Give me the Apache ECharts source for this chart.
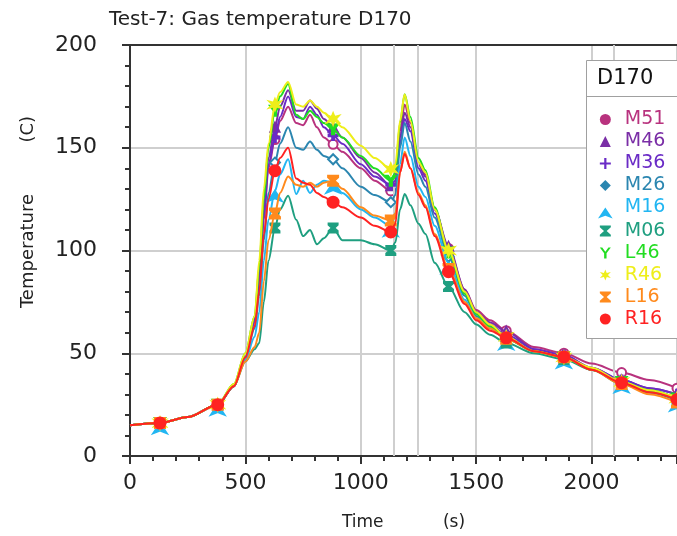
<!DOCTYPE html>
<html>
<head>
<meta charset="utf-8">
<script src="https://cdn.jsdelivr.net/npm/echarts@6/dist/echarts.min.js"></script>
<style>
  html, body { margin: 0; padding: 0; background: #fff; }
  #chart { width: 677px; height: 536px; }
</style>
</head>
<body>
<div id="chart"></div>
<script>
// Sample times (s) shared by every gauge
const times = [0, 130, 250, 380, 450, 500, 540, 560, 580, 600, 628, 650, 685, 720, 750, 780, 810, 840, 880, 920, 1000, 1060, 1130, 1150, 1170, 1190, 1215, 1250, 1280, 1320, 1380, 1450, 1500, 1560, 1630, 1750, 1880, 2000, 2130, 2250, 2370];
// Times at which each curve carries its marker
const markerTimes = [130, 380, 628, 880, 1130, 1380, 1630, 1880, 2130, 2370];
// Event lines on the time axis
const eventTimes = [1142, 1247, 2097];

// Gas temperatures (C) per gauge
const M51 = [15, 16, 19, 25, 34, 48, 66, 85, 115, 140, 154, 163, 170, 162, 161, 166, 160, 155, 151.7, 148, 140, 134, 129, 133, 158, 171, 162, 143, 137, 120, 101, 81, 71, 66, 61, 53, 50, 45, 40.6, 37, 33];
const M46 = [15, 16, 19, 25, 34, 48, 66, 88, 120, 145, 160, 170, 178, 168, 168, 173, 169, 164, 160, 155, 145, 138, 131.5, 135, 155, 167, 160, 142, 136, 120, 102, 81, 70, 65, 60.7, 52, 49, 43, 37, 33, 30];
const M36 = [15, 16, 19, 25, 34, 48, 65, 86, 117, 142, 155, 165, 175, 165, 164, 170, 166, 160, 156, 152, 142, 136, 132, 134, 152, 164, 158, 140, 134, 118, 100, 80, 70, 64, 59, 52, 49, 43, 37, 33, 30];
const M26 = [15, 16, 19, 25, 34, 48, 62, 78, 105, 128, 142.8, 152, 160, 150, 149, 153, 149, 146, 144.4, 140, 131, 127, 123.5, 127, 150, 162, 153, 137, 131, 116, 97, 78, 68, 63, 58, 51, 48, 42, 36, 32, 28];
const M16 = [15, 16, 19, 25, 34, 47, 58, 70, 95, 115, 129, 137, 144.4, 127.5, 134, 128, 132, 134, 133, 128, 120, 116, 112, 118, 142, 155, 146, 131, 126, 112, 94, 76, 67, 62, 57, 51, 48, 42, 36, 31, 27];
const M06 = [15, 16, 19, 25, 34, 46, 52, 55, 75, 95, 111, 120, 126.7, 115, 107, 110, 103, 106, 111, 105, 105, 103, 100, 104, 120, 127.5, 122, 113, 108, 94, 82.5, 70, 64, 59, 55, 50, 47, 42, 35, 31, 27];
const L46 = [15, 16, 19, 25, 35, 50, 68, 92, 125, 150, 168, 175, 181, 166, 164, 168, 165, 162, 159, 155, 146, 140, 134, 138, 162, 176, 165, 145, 139, 121, 99, 79, 69, 63, 57, 51, 48, 42, 36, 32, 28];
const R46 = [15, 16, 19, 25, 35, 50, 68, 95, 130, 152, 171, 177, 182, 171, 170, 173, 170, 167, 164, 160, 151, 145, 139.6, 142, 163, 176, 163, 143, 138, 120, 100, 80, 70, 64, 58, 51, 48, 43, 36, 32, 28];
const L16 = [15, 16, 19, 25, 34, 46, 53, 60, 85, 105, 118, 128, 136, 132, 131, 133, 131, 133, 134, 130, 121, 117, 114.6, 118, 138, 148, 140, 128, 122, 108, 91, 75, 67, 62, 57, 51, 48, 42, 35, 30, 26];
const R16 = [15, 16, 19, 25, 34, 48, 63, 80, 108, 125, 138.8, 145, 150, 135, 133, 132, 128, 126, 123.5, 121, 116, 112, 109, 113, 138, 147, 140, 127, 121, 107, 89.7, 74, 66, 61, 57.5, 51, 48.2, 42, 35.7, 31, 27.5];

const gaugeNames = ['M51', 'M46', 'M36', 'M26', 'M16', 'M06', 'L46', 'R46', 'L16', 'R16'];
const gaugeValues = [M51, M46, M36, M26, M16, M06, L46, R46, L16, R16];
const gaugeColors = ['#b8327e', '#7a2ea6', '#6a2bc6', '#2b86b0', '#22b6f2', '#1f9f80', '#22dd22', '#eeee1a', '#ff8a1c', '#ff2222'];

const plus = 'path://M4,0H6V4H10V6H6V10H4V6H0V4H4Z';
const hourglass = 'path://M0,0H10V1.6L6.2,5L10,8.4V10H0V8.4L3.8,5L0,1.6Z';
const ysym = 'path://M0,0H2.2L5,3.8L7.8,0H10L6.1,5.2V10H3.9V5.2Z';
const star = 'path://M5,0L6.3,3.2L10,2.2L7.4,5L10,7.8L6.3,6.8L5,10L3.7,6.8L0,7.8L2.6,5L0,2.2L3.7,3.2Z';
const gaugeSymbols = ['emptyCircle', 'triangle', plus, 'emptyDiamond', 'arrow', hourglass, ysym, star, hourglass, 'circle'];
const gaugeSizes = [9, 9, 9, 10, 10, 9, 10, 11, 10, 11];

const chart = echarts.init(document.getElementById('chart'));
const font = 'DejaVu Sans';

const series = gaugeNames.map((name, k) => ({
  name: name,
  type: 'line',
  data: times.map((t, i) => [t, gaugeValues[k][i]]),
  smooth: 0.3,
  smoothMonotone: 'x',
  showAllSymbol: true,
  symbol: gaugeSymbols[k],
  symbolSize: (v) => markerTimes.indexOf(v[0]) >= 0 ? gaugeSizes[k] : 0,
  lineStyle: { width: 2, color: gaugeColors[k] },
  itemStyle: { color: gaugeColors[k], borderColor: gaugeColors[k], borderWidth: 2 },
  emphasis: { disabled: true },
  clip: true,
  z: 3 + k,
  markLine: k === 0 ? {
    silent: true,
    symbol: 'none',
    label: { show: false },
    lineStyle: { color: '#cfcfcf', width: 2, type: 'solid' },
    data: eventTimes.map((t) => ({ xAxis: t }))
  } : undefined
}));

chart.setOption({
  animation: false,
  backgroundColor: '#ffffff',
  textStyle: { fontFamily: font },
  title: {
    text: 'Test-7: Gas temperature D170',
    left: 104, top: 5,
    textStyle: { fontFamily: font, fontSize: 20, fontWeight: 'normal', color: '#222' }
  },
  grid: { left: 130, right: 0, top: 45, bottom: 77, containLabel: false },
  xAxis: [{
    type: 'value', min: 0, max: 2370, interval: 500,
    name: 'Time           (s)', nameLocation: 'middle', nameGap: 58,
    nameTextStyle: { fontFamily: font, fontSize: 17, color: '#222' },
    axisLine: { show: true, lineStyle: { color: '#333', width: 2 } },
    axisTick: { show: true, length: 8, lineStyle: { color: '#333', width: 2 } },
    minorTick: { show: true, splitNumber: 5, length: 5, lineStyle: { color: '#333', width: 2 } },
    axisLabel: { fontFamily: font, fontSize: 22, color: '#222', margin: 16, showMaxLabel: false, formatter: (v) => String(v) },
    splitLine: { show: true, lineStyle: { color: '#cfcfcf', width: 2 } }
  }, {
    type: 'value', min: 0, max: 2370, position: 'top',
    axisLine: { show: true, lineStyle: { color: '#333', width: 2 } },
    axisTick: { show: false }, axisLabel: { show: false }, splitLine: { show: false }
  }],
  yAxis: {
    type: 'value', min: 0, max: 200, interval: 50,
    axisLine: { show: true, lineStyle: { color: '#333', width: 2 } },
    axisTick: { show: true, length: 8, lineStyle: { color: '#333', width: 2 } },
    minorTick: { show: true, splitNumber: 5, length: 5, lineStyle: { color: '#333', width: 2 } },
    axisLabel: { fontFamily: font, fontSize: 22, color: '#222', margin: 33, formatter: (v) => String(v) },
    splitLine: { show: true, lineStyle: { color: '#cfcfcf', width: 2 } }
  },
  legend: {
    orient: 'vertical',
    left: 598, top: 110,
    itemGap: 3,
    itemWidth: 11, itemHeight: 11,
    padding: 0,
    selectedMode: false,
    z: 20,
    data: gaugeNames.map((n, k) => ({
      name: n,
      icon: gaugeSymbols[k] === 'emptyCircle' ? 'circle' : (gaugeSymbols[k] === 'emptyDiamond' ? 'diamond' : gaugeSymbols[k]),
      itemStyle: { color: gaugeColors[k], borderWidth: 0 },
      textStyle: { color: gaugeColors[k], fontFamily: font, fontSize: 19, padding: [0, 0, 0, 9] }
    }))
  },
  graphic: [
    {
      type: 'rect', z: 15, silent: true,
      shape: { x: 586.5, y: 60.5, width: 100, height: 278 },
      style: { fill: '#ffffff', stroke: '#a0a0a0', lineWidth: 1 }
    },
    {
      type: 'line', z: 16, silent: true,
      shape: { x1: 586.5, y1: 96.5, x2: 677, y2: 96.5 },
      style: { stroke: '#a0a0a0', lineWidth: 1 }
    },
    {
      type: 'text', z: 16, silent: true, left: 597, top: 68,
      style: { text: 'D170', font: '21px "DejaVu Sans"', fill: '#111' }
    },
    {
      type: 'text', z: 16, silent: true,
      x: 28, y: 212, rotation: Math.PI / 2,
      style: { text: 'Temperature         (C)', font: '18px "DejaVu Sans"', fill: '#222', align: 'center', verticalAlign: 'middle' }
    }
  ],
  series: series
});
</script>
</body>
</html>
